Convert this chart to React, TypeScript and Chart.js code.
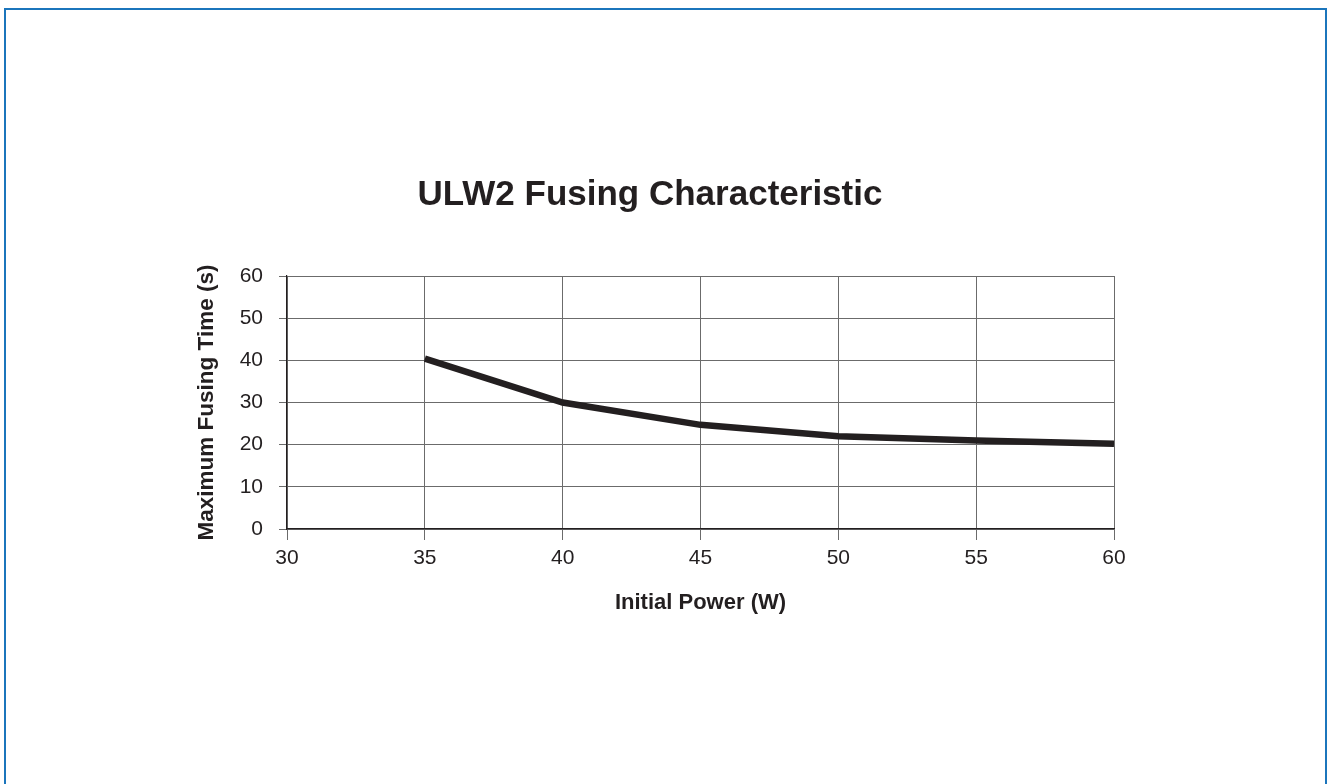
import React, { useEffect, useRef } from "react";
import { Chart, registerables } from "chart.js";

Chart.register(...registerables);

const powerW: number[] = [35, 40, 45, 50, 55, 60];
const fusingTimeS: number[] = [40.4, 30, 24.7, 22, 21, 20.2];
const titleText = "ULW2 Fusing Characteristic";
const xTitle = "Initial Power (W)";
const yTitle = "Maximum Fusing Time (s)";

const FONT = "'Liberation Sans', Arial, Helvetica, sans-serif";
const INK = "#231f20";

export default function App() {
  const ref = useRef<HTMLCanvasElement | null>(null);

  useEffect(() => {
    if (!ref.current) return;
    const chart = new Chart(ref.current, {
      type: "line",
      data: {
        datasets: [
          {
            data: powerW.map((x, i) => ({ x, y: fusingTimeS[i] })),
            borderColor: INK,
            borderWidth: 6.5,
            pointRadius: 0,
            tension: 0,
            fill: false,
          },
        ],
      },
      options: {
        animation: false,
        responsive: false,
        devicePixelRatio: 1,
        layout: { padding: { left: 186, right: 213, top: 0, bottom: 165 } },
        plugins: {
          legend: { display: false },
          tooltip: { enabled: false },
          title: {
            display: true,
            text: titleText,
            color: INK,
            font: { family: FONT, size: 35, weight: "bold", lineHeight: 1.2 },
            padding: { top: 174, bottom: 60 },
          },
        },
        scales: {
          x: {
            type: "linear",
            min: 30,
            max: 60,
            ticks: {
              stepSize: 5,
              color: INK,
              font: { family: FONT, size: 21 },
              padding: 6,
              maxRotation: 0,
            },
            grid: { color: "#6b6b6b", lineWidth: 1, tickLength: 11, tickColor: "#6b6b6b" },
            border: { color: INK, width: 1.2 },
            title: {
              display: true,
              text: xTitle,
              color: INK,
              font: { family: FONT, size: 22, weight: "bold", lineHeight: 1.2 },
              padding: { top: 0, bottom: 3 },
            },
            afterFit: (s: any) => {
              s.height = 90;
            },
          },
          y: {
            type: "linear",
            min: 0,
            max: 60,
            ticks: {
              stepSize: 10,
              color: INK,
              font: { family: FONT, size: 21 },
              padding: 16,
            },
            grid: { color: "#6b6b6b", lineWidth: 1, tickLength: 8, tickColor: "#6b6b6b" },
            border: { color: INK, width: 1.2 },
            title: {
              display: true,
              text: yTitle,
              color: INK,
              font: { family: FONT, size: 22.5, weight: "bold", lineHeight: 1.2 },
              padding: { top: 7.5, bottom: 0 },
            },
            afterFit: (s: any) => {
              s.width = 101;
            },
          },
        },
      },
    });
    return () => chart.destroy();
  }, []);

  return (
    <div
      style={{
        position: "fixed",
        left: 0,
        top: 0,
        width: 1327,
        height: 784,
        overflow: "hidden",
        background: "#ffffff",
      }}
    >
      <div
        style={{
          position: "absolute",
          left: 4,
          top: 8,
          width: 1323,
          height: 820,
          boxSizing: "border-box",
          border: "2.5px solid #1b75bc",
        }}
      />
      <canvas
        ref={ref}
        width={1327}
        height={784}
        style={{ position: "absolute", left: 0, top: 0, width: 1327, height: 784 }}
      />
    </div>
  );
}
